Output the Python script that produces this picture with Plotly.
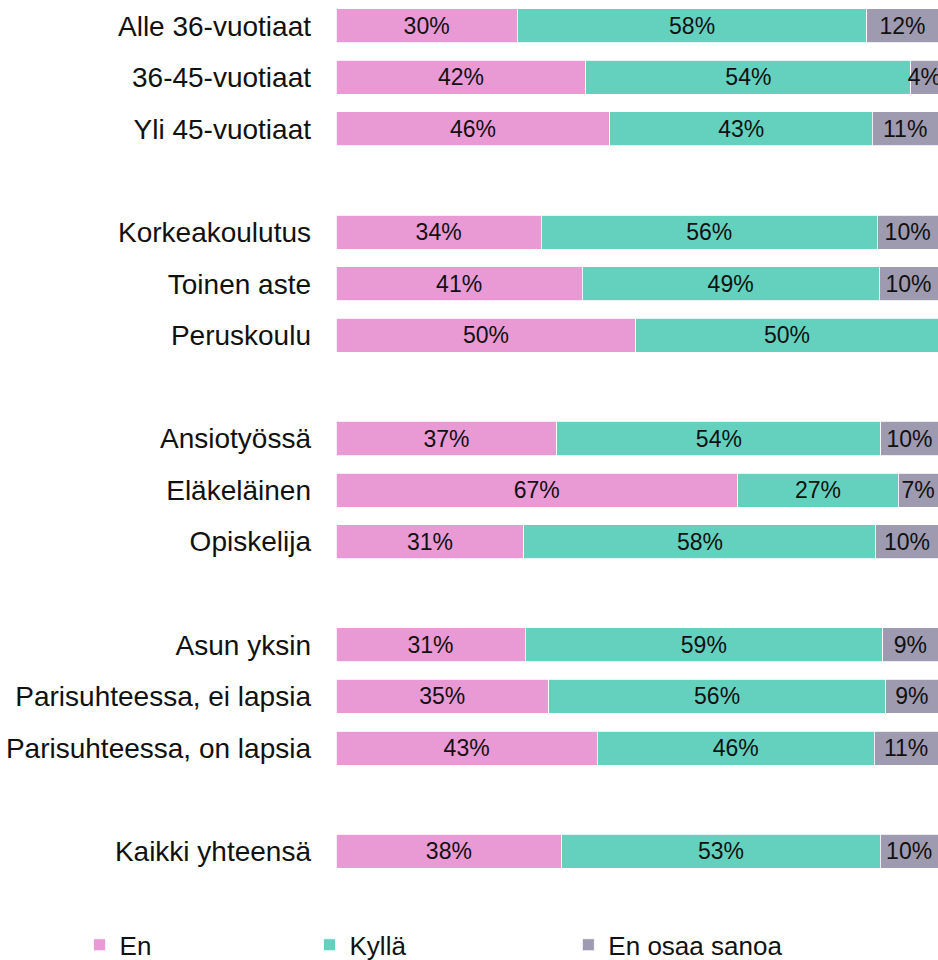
import plotly.graph_objects as go

categories = ["Alle 36-vuotiaat", "36-45-vuotiaat", "Yli 45-vuotiaat", " ",
              "Korkeakoulutus", "Toinen aste", "Peruskoulu", "  ",
              "Ansiotyössä", "Eläkeläinen", "Opiskelija", "   ",
              "Asun yksin", "Parisuhteessa, ei lapsia", "Parisuhteessa, on lapsia", "    ",
              "Kaikki yhteensä"]

en = [30.1, 41.5, 45.5, None, 34.1, 40.9, 49.8, None, 36.7, 66.7, 31.2, None, 31.4, 35.3, 43.4, None, 37.5]
kylla = [58.1, 54.0, 43.6, None, 55.8, 49.3, 50.2, None, 53.8, 26.7, 58.5, None, 59.4, 56.0, 46.0, None, 52.9]
eos = [11.8, 4.5, 10.9, None, 10.1, 9.8, 0.0, None, 9.5, 6.6, 10.3, None, 9.2, 8.7, 10.6, None, 9.6]

en_labels = ["30%", "42%", "46%", "", "34%", "41%", "50%", "", "37%", "67%", "31%", "", "31%", "35%", "43%", "", "38%"]
kylla_labels = ["58%", "54%", "43%", "", "56%", "49%", "50%", "", "54%", "27%", "58%", "", "59%", "56%", "46%", "", "53%"]
eos_labels = ["12%", "4%", "11%", "", "10%", "10%", "", "", "10%", "7%", "10%", "", "9%", "9%", "11%", "", "10%"]

series = [
    ("En", en, en_labels, "#E999D4", "legend"),
    ("Kyllä", kylla, kylla_labels, "#63D1BE", "legend2"),
    ("En osaa sanoa", eos, eos_labels, "#9E9AB0", "legend3"),
]

regular = "Liberation Sans, Arial, sans-serif"

fig = go.Figure()
for name, vals, labels, color, lg in series:
    fig.add_trace(go.Bar(
        y=categories, x=vals, name=name, orientation="h",
        marker=dict(color=color, line=dict(color="white", width=0.8)),
        text=labels, texttemplate="%{text}", textposition="inside",
        insidetextanchor="middle", constraintext="none", textangle=0,
        textfont=dict(family=regular, size=23, color="#111111"),
        cliponaxis=True, legend=lg, hoverinfo="skip",
    ))

leg_common = dict(orientation="h", yref="container", yanchor="middle", y=0.0158,
                  xanchor="left", bgcolor="rgba(0,0,0,0)",
                  font=dict(family=regular, size=26, color="#111111"))

fig.update_layout(
    width=938, height=960,
    margin=dict(l=336, r=0, t=0, b=83),
    barmode="stack", bargap=0.34,
    plot_bgcolor="white", paper_bgcolor="white",
    xaxis=dict(range=[0, 100], visible=False, fixedrange=True),
    yaxis=dict(range=[16.5, -0.5], showgrid=False, showline=False, zeroline=False,
               automargin=False, ticks="", ticklabelstandoff=24, fixedrange=True,
               tickfont=dict(family=regular, size=28, color="#111111")),
    legend=dict(x=-0.426, **leg_common),
    legend2=dict(x=-0.044, **leg_common),
    legend3=dict(x=0.386, **leg_common),
    showlegend=True,
)

fig.write_html("out.html",
               config={"displayModeBar": False},
               post_script="document.body.style.margin='0';document.body.style.overflow='hidden';")
